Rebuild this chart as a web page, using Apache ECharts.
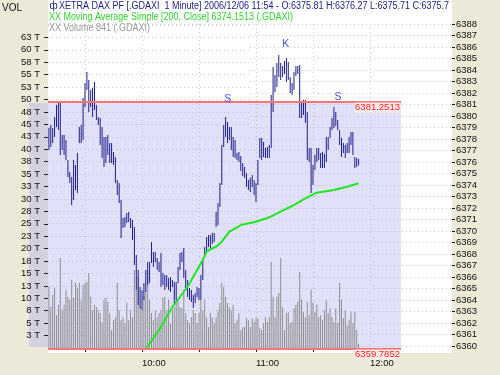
<!DOCTYPE html>
<html><head><meta charset="utf-8">
<script src="https://cdn.jsdelivr.net/npm/echarts@6/dist/echarts.min.js"></script>
<style>html,body{margin:0;padding:0;background:#ece9d8}#c{width:500px;height:375px}</style>
</head><body><div id="c"></div><script>
// ---------- data (minutes after 09:00) ----------
const startMinute = 11; // first bar 09:11, one bar per minute
const highs = [
6378.96,6379.22,6378.96,6379.91,6380.96,6381.13,6381.13,6378.35,6378.35,6377.91,
6376.17,6375.13,6374.70,6376.17,6375.74,6376.78,6379.04,6379.22,6381.57,6382.87,
6383.83,6383.13,6382.26,6382.44,6382.96,6380.96,6379.91,6379.83,6379.04,6378.17,
6378.17,6378.35,6377.65,6377.65,6376.87,6376.43,6374.43,6374.17,6372.70,6371.13,
6371.22,6371.57,6371.65,6371.13,6370.96,6370.35,6367.91,6366.61,6365.13,6364.87,
6365.48,6366.61,6367.30,6367.30,6369.04,6368.17,6368.17,6367.65,6367.30,6368.09,
6366.35,6366.17,6366.17,6365.91,6366.00,6365.74,6365.57,6365.57,6366.87,6368.09,
6368.17,6368.52,6366.61,6365.74,6365.04,6364.87,6364.43,6364.61,6365.13,6365.04,
6366.17,6367.48,6368.61,6369.48,6369.65,6369.65,6369.83,6369.83,6371.65,6372.43,
6374.17,6377.48,6379.22,6379.91,6379.48,6379.04,6379.04,6378.17,6377.91,6376.78,
6376.87,6376.52,6375.91,6375.57,6375.04,6374.43,6374.61,6374.87,6374.43,6374.17,
6376.17,6378.09,6378.09,6377.74,6377.22,6377.30,6377.48,6381.83,6384.26,6383.57,
6384.61,6385.30,6384.61,6384.35,6384.78,6385.04,6384.70,6383.39,6382.87,6383.83,
6384.35,6384.35,6384.44,6381.13,6381.39,6381.39,6380.35,6377.22,6377.22,6375.74,
6376.61,6377.22,6377.22,6376.78,6376.87,6376.70,6378.17,6378.17,6379.04,6379.83,
6380.78,6380.35,6379.65,6378.78,6378.09,6377.65,6377.48,6377.65,6378.17,6378.61,
6378.61,6376.43,6376.35,6376.27];
const lows = [
6377.04,6377.30,6377.65,6378.17,6379.04,6378.78,6376.61,6377.04,6376.61,6376.17,
6374.70,6374.17,6372.26,6372.70,6373.57,6373.30,6377.65,6377.65,6377.91,6380.78,
6382.26,6380.35,6380.78,6379.91,6380.52,6379.65,6379.22,6377.48,6376.35,6375.57,
6375.91,6376.61,6375.91,6375.91,6375.74,6374.17,6373.13,6372.43,6369.39,6370.26,
6370.35,6370.70,6370.78,6370.26,6369.22,6367.04,6364.87,6363.57,6363.30,6363.13,
6364.00,6364.70,6365.30,6365.48,6367.22,6366.87,6367.30,6366.61,6366.43,6365.13,
6365.30,6364.87,6365.13,6364.87,6364.70,6365.13,6363.57,6364.00,6365.48,6366.61,
6367.30,6365.91,6364.87,6364.26,6364.00,6363.83,6363.30,6363.74,6364.26,6364.00,
6364.00,6365.74,6367.91,6368.09,6368.61,6368.52,6368.87,6369.04,6370.35,6370.52,
6372.09,6374.00,6377.30,6378.17,6377.65,6377.91,6377.04,6376.43,6376.35,6376.17,
6376.00,6375.22,6374.78,6374.61,6373.83,6373.57,6373.39,6373.83,6373.13,6372.52,
6374.00,6376.35,6376.17,6376.43,6376.35,6376.35,6376.35,6377.22,6380.35,6382.09,
6382.52,6383.39,6383.13,6383.39,6383.65,6382.96,6383.13,6382.00,6381.83,6382.26,
6383.48,6383.65,6379.83,6379.83,6380.09,6379.39,6376.17,6376.00,6373.30,6374.00,
6375.30,6376.00,6376.17,6375.48,6375.48,6375.48,6376.00,6377.04,6378.09,6378.78,
6378.96,6379.13,6378.78,6377.48,6376.43,6376.78,6376.35,6376.78,6376.78,6377.48,
6376.61,6375.48,6375.57,6375.71];
const volumes = [ // thousands (T)
12.3,8.3,10.7,12.1,6.6,8.7,18.1,7.6,8.7,11.7,
10.3,9.7,13.7,10.1,13.1,12.1,13.1,9.7,12.7,13.1,
13.3,15.1,10.3,7.6,8.7,8.2,7.6,7.0,5.2,9.7,
10.1,9.3,7.0,3.6,5.6,6.2,13.1,7.6,5.6,6.2,
5.0,9.1,5.6,7.6,6.2,15.7,11.7,14.3,8.2,7.6,
10.3,11.7,15.7,9.7,7.0,5.6,7.6,6.2,7.0,7.6,
10.1,10.3,7.6,9.7,5.0,7.6,8.2,9.1,9.7,8.2,
8.0,11.7,7.0,5.6,5.0,6.2,7.6,7.0,5.0,7.0,
9.7,7.6,9.7,6.2,4.2,7.0,6.2,5.0,6.2,7.6,
9.1,13.1,12.3,10.3,9.1,8.2,7.6,8.7,5.0,5.6,
7.0,3.6,4.2,4.2,6.0,5.6,4.2,6.0,5.2,6.0,
6.0,4.0,3.6,5.0,6.2,5.2,6.2,17.3,10.3,6.2,
10.3,11.1,18.1,8.2,3.6,7.0,7.2,5.0,5.2,8.0,
8.7,9.3,15.3,9.7,7.2,6.2,9.3,6.6,11.7,9.1,
7.2,8.7,6.2,6.6,5.6,7.6,9.7,7.0,8.0,6.2,
5.2,8.0,5.0,13.1,9.7,6.0,7.6,4.6,5.6,7.2,
5.0,7.2,3.6,0.84];
const maMinutes = [60,69,76,84,92,94,96,99,102,106,110,112,120,127,133,140,145,152,161,168,174];
const maValues = [6359.27,6361.39,6363.39,6365.15,6367.48,6368.20,6368.41,6368.63,6369.07,6369.94,
  6370.32,6370.52,6370.81,6371.19,6371.68,6372.26,6372.75,6373.33,6373.57,6373.85,6374.15];
const channelTop = 6381.2513, channelBottom = 6359.7852, channelEndMinute = 196.3;
const annotationTexts = ['S','K','S'];
const annotationMinutes = [105.1, 135.6, 163.2];
const annotationPrices = [6381.48, 6386.26, 6381.65];
const priceTicks = [6360,6361,6362,6363,6364,6365,6366,6367,6368,6369,6370,6371,6372,6373,6374,
  6375,6376,6377,6378,6379,6380,6381,6382,6383,6384,6385,6386,6387,6388];
const volumeTicks = [2.5,5,7.5,10,12.5,15,17.5,20,22.5,25,27.5,30,32.5,35,37.5,40,42.5,45,47.5,50,52.5,55,57.5,60,62.5];
const volumeTickLabels = ['3 T','5 T','8 T','10 T','13 T','15 T','18 T','20 T','23 T','25 T','28 T','30 T','33 T',
  '35 T','38 T','40 T','43 T','45 T','48 T','50 T','53 T','55 T','58 T','60 T','63 T'];
const timeTicks = [30,60,90,120,150,180];
const timeLabelMinutes = [60,120,180];
const timeLabels = ['10:00','11:00','12:00'];
const titleLine = 'XETRA DAX PF [.GDAXI  1 Minute] 2006/12/06 11:54 - O:6375.81 H:6376.27 L:6375.71 C:6375.7';
const maLine = 'XX Moving Average Simple [200, Close] 6374.1513 (.GDAXI)';
const volLine = 'XX Volume 841 (.GDAXI)';

// ---------- chart ----------
const X_MIN = 10.53, X_MAX = 223.16;
const P_MIN = 6359.739, P_MAX = 6388;
const V_MIN = -0.2, V_MAX = 65.19;
const FONT = '"Liberation Sans", Arial, sans-serif';
const gridDot = {color:'#c9c9c9', type:[1,3], width:1};

const ohlcData = highs.map((h,i)=>[startMinute+i, lows[i], h]);
const volData = volumes.map((v,i)=>[startMinute+i, v]);
const maData = maMinutes.map((m,i)=>[m, maValues[i]]);
const annData = annotationTexts.map((t,i)=>[annotationMinutes[i], annotationPrices[i]]);

const chart = echarts.init(document.getElementById('c'), null, {renderer:'canvas', width:500, height:375});
chart.setOption({
  backgroundColor:'#ece9d8',
  animation:false,
  grid:[
    {left:48, right:48, top:24, bottom:26},
    {left:48, width:202, top:24, bottom:27},
    {left:250, right:48, top:24, bottom:28.96}
  ],
  xAxis:[
    {gridIndex:0, type:'value', min:X_MIN, max:X_MAX, position:'bottom', offset:4,
      axisLine:{show:false},
      axisTick:{show:true, length:4, customValues:timeTicks, lineStyle:{color:'#222'}},
      axisLabel:{customValues:timeLabelMinutes, formatter:v=>timeLabels[timeLabelMinutes.indexOf(v)],
        align:'left', margin:5, fontSize:9.5, color:'#111', fontFamily:FONT},
      splitLine:{show:true, lineStyle:gridDot}},
    {gridIndex:1, type:'value', min:X_MIN, max:X_MAX, show:false},
    {gridIndex:2, type:'value', min:X_MIN, max:X_MAX, show:false}
  ],
  yAxis:[
    {gridIndex:0, type:'value', position:'right', min:P_MIN, max:P_MAX,
      axisLine:{show:false},
      axisTick:{show:true, length:3, customValues:priceTicks, lineStyle:{color:'#222'}},
      axisLabel:{customValues:priceTicks, formatter:v=>String(v), margin:4, fontSize:9.5, color:'#111', fontFamily:FONT},
      splitLine:{show:false}},
    {gridIndex:0, type:'value', position:'left', min:V_MIN, max:V_MAX,
      axisLine:{show:false},
      axisTick:{show:true, length:4, customValues:volumeTicks, lineStyle:{color:'#222'}},
      axisLabel:{customValues:volumeTicks, formatter:v=>volumeTickLabels[volumeTicks.indexOf(v)],
        margin:8, fontSize:9.5, color:'#111', fontFamily:FONT},
      splitLine:{show:false}},
    {gridIndex:1, type:'value', min:0, max:V_MAX, interval:2.5,
      axisLine:{show:false}, axisTick:{show:false}, axisLabel:{show:false},
      splitLine:{show:true, lineStyle:gridDot}},
    {gridIndex:2, type:'value', min:6360, max:6388, interval:1,
      axisLine:{show:false}, axisTick:{show:false}, axisLabel:{show:false},
      splitLine:{show:true, lineStyle:gridDot}}
  ],
  graphic:[
    {type:'rect', z:-10, silent:true, shape:{x:48, y:0, width:404, height:353}, style:{fill:'#ffffff'}},
    {type:'rect', z:-10, silent:true, shape:{x:29, y:103, width:19, height:244}, style:{fill:'#d3d1dd'}},
    {type:'text', z:10, x:2, y:8.5, style:{text:'VOL', fill:'#111', font:'10px '+FONT, verticalAlign:'middle'}},
    {type:'text', z:10, x:49.5, y:6.5, style:{text:'ф', fill:'#1c1c8c', font:'10px '+FONT, verticalAlign:'middle'}},
    {type:'text', z:10, x:59, y:6.5, scaleX:0.9, style:{text:titleLine, fill:'#1c1c8c', font:'10px '+FONT, verticalAlign:'middle'}},
    {type:'text', z:10, x:49, y:17, scaleX:0.9, style:{text:maLine, fill:'#2fd42f', font:'10px '+FONT, verticalAlign:'middle'}},
    {type:'text', z:10, x:49, y:28, scaleX:0.9, style:{text:volLine, fill:'#9a9a9a', font:'10px '+FONT, verticalAlign:'middle'}}
  ],
  series:[
    {type:'custom', name:'channel', xAxisIndex:0, yAxisIndex:0, z:1, silent:true,
      data:[[X_MIN, channelEndMinute, channelBottom, channelTop]],
      renderItem:(params, api)=>{
        const p1 = api.coord([api.value(0), api.value(3)]);
        const p2 = api.coord([api.value(1), api.value(2)]);
        return {type:'rect', shape:{x:p1[0], y:p1[1], width:p2[0]-p1[0], height:p2[1]-p1[1]},
          style:{fill:'rgba(180,180,240,0.42)'}};
      },
      markLine:{silent:true, symbol:'none', animation:false,
        lineStyle:{color:'#ff7474', width:2, type:'solid'},
        label:{show:true, position:'insideEndBottom', formatter:'{b}', color:'#ff2020', fontSize:9.5,
          fontFamily:FONT, distance:1, backgroundColor:'rgba(255,236,236,0.85)', padding:[0,0,0,0]},
        data:[
          [{coord:[X_MIN, channelTop], name:'6381.2513'}, {coord:[channelEndMinute, channelTop]}],
          [{coord:[X_MIN, channelBottom], name:'6359.7852'}, {coord:[channelEndMinute, channelBottom]}]
        ]}
    },
    {type:'custom', name:'Volume', xAxisIndex:0, yAxisIndex:1, z:2, silent:true,
      data:volData,
      renderItem:(params, api)=>{
        const x = api.value(0);
        const a = api.coord([x, 0]);
        const b = api.coord([x, api.value(1)]);
        return {type:'line', shape:{x1:a[0], y1:a[1], x2:b[0], y2:b[1]}, style:{stroke:'#8e8e8e', lineWidth:1}};
      }
    },
    {type:'custom', name:'XETRA DAX PF', xAxisIndex:0, yAxisIndex:0, z:3, silent:true,
      data:ohlcData,
      renderItem:(params, api)=>{
        const x = api.value(0);
        const a = api.coord([x, api.value(1)]);
        const b = api.coord([x, api.value(2)]);
        return {type:'line', shape:{x1:a[0], y1:a[1], x2:b[0], y2:b[1]}, style:{stroke:'#1e1e8a', lineWidth:1}};
      }
    },
    {type:'line', name:'MA 200', xAxisIndex:0, yAxisIndex:0, z:4, silent:true, symbol:'none',
      data:maData, lineStyle:{color:'#22e622', width:2}},
    {type:'custom', name:'annotations', xAxisIndex:0, yAxisIndex:0, z:5, silent:true,
      data:annData,
      renderItem:(params, api)=>{
        const p = api.coord([api.value(0), api.value(1)]);
        return {type:'text', x:p[0], y:p[1], style:{text:annotationTexts[params.dataIndex], fill:'#4a4af0',
          font:'10.5px '+FONT, align:'center', verticalAlign:'middle'}};
      }
    }
  ]
});
</script></body></html>
